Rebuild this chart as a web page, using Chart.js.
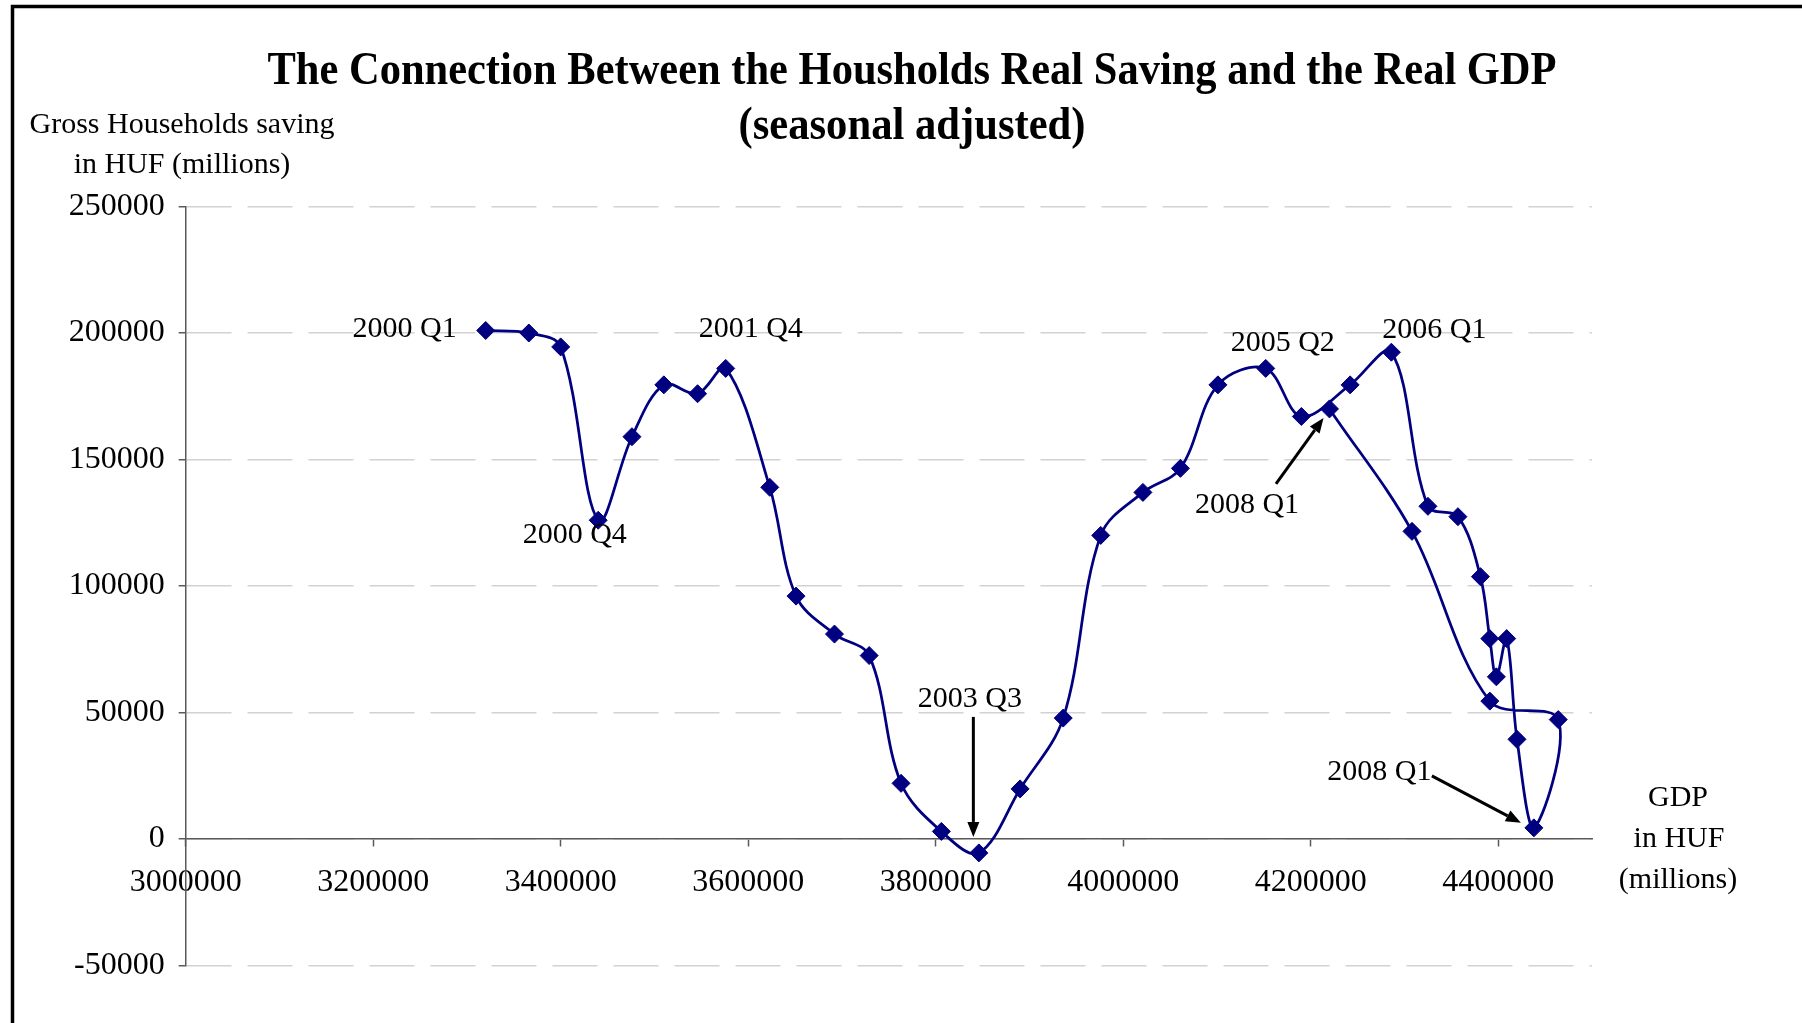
<!DOCTYPE html>
<html>
<head>
<meta charset="utf-8">
<title>Households real saving vs real GDP</title>
<script src="https://cdn.jsdelivr.net/npm/chart.js@4.4.1/dist/chart.umd.min.js"></script>
<style>
  html, body { margin: 0; padding: 0; background: #fff; }
  #wrap { width: 1802px; height: 1023px; }
</style>
</head>
<body>
<div id="wrap"><canvas id="savingChart" width="1802" height="1023"></canvas></div>
<script>
const quarters = [
  '2000 Q1', '2000 Q2', '2000 Q3', '2000 Q4',
  '2001 Q1', '2001 Q2', '2001 Q3', '2001 Q4',
  '2002 Q1', '2002 Q2', '2002 Q3', '2002 Q4',
  '2003 Q1', '2003 Q2', '2003 Q3', '2003 Q4',
  '2004 Q1', '2004 Q2', '2004 Q3', '2004 Q4',
  '2005 Q1', '2005 Q2', '2005 Q3', '2005 Q4',
  '2006 Q1', '2006 Q2', '2006 Q3', '2006 Q4',
  '2007 Q1', '2007 Q2', '2007 Q3', '2007 Q4',
  '2008 Q1', '2008 Q2', '2008 Q3', '2008 Q4',
  '2009 Q1'
];
const gdpValues = [
  3320000, 3366000, 3400000, 3440000,
  3476000, 3510000, 3546000, 3576000,
  3623000, 3651000, 3692000, 3729000,
  3763000, 3806000, 3846000, 3890000,
  3936000, 3976000, 4021000, 4061000,
  4101000, 4152000, 4190000, 4242000,
  4286000, 4325000, 4357000, 4381000,
  4391000, 4398000, 4409000, 4420000,
  4438000, 4464000, 4391000, 4308000,
  4220000
];
const savingValues = [
  201000, 200000, 194500, 126000,
  159000, 179500, 176000, 186000,
  139000, 96000, 81000, 72500,
  22000, 3000, -5500, 19800,
  47800, 120000, 137000, 146500,
  179500, 186000, 167000, 179500,
  192400, 131500, 127400, 103700,
  79200, 64100, 79200, 39400,
  4400, 47200, 54500, 121600,
  170000
];

// axis ticks
const xTicks = [3000000, 3200000, 3400000, 3600000, 3800000, 4000000, 4200000, 4400000];
const yTicks = [-50000, 0, 50000, 100000, 150000, 200000, 250000];
const xMin = 3000000, xMax = 4500000;
const yMin = -50000, yMax = 250000;

// annotation texts and the observation (index) each one refers to
const noteTexts = ['2000 Q1', '2000 Q4', '2001 Q4', '2003 Q3', '2005 Q2', '2006 Q1', '2008 Q1', '2008 Q1'];
const notePoints = [0, 3, 7, 14, 21, 24, 36, 32];

const serif = "'Liberation Serif', 'Times New Roman', serif";
const navy = '#000080';
const axisGray = '#5a5a5a';

// pixel offsets of the labels from their points
const noteLayout = [
  { dx: -29, dy: -1, align: 'right' },
  { dx: -23.5, dy: 15 },
  { dx: 25, dy: -39 },
  { dx: -9, dy: -154, arrow: [-5.5, -136, -5.5, -16] },
  { dx: 17, dy: -25 },
  { dx: 43, dy: -22 },
  { dx: -82.5, dy: 96.6, arrow: [-53.5, 75, -6, 9] },
  { dx: -154.5, dy: -55.4, arrow: [-102, -52, -13, -5] }
];

function drawArrow(ctx, x1, y1, x2, y2) {
  const ang = Math.atan2(y2 - y1, x2 - x1);
  const head = 15, half = 6;
  const bx = x2 - head * Math.cos(ang), by = y2 - head * Math.sin(ang);
  ctx.beginPath();
  ctx.moveTo(x1, y1);
  ctx.lineTo(bx, by);
  ctx.stroke();
  ctx.beginPath();
  ctx.moveTo(x2, y2);
  ctx.lineTo(bx + half * Math.sin(ang), by - half * Math.cos(ang));
  ctx.lineTo(bx - half * Math.sin(ang), by + half * Math.cos(ang));
  ctx.closePath();
  ctx.fill();
}

const framePlugin = {
  id: 'frame',
  beforeDraw(chart) {
    const ctx = chart.ctx;
    ctx.save();
    ctx.fillStyle = '#fff';
    ctx.fillRect(0, 0, chart.width, chart.height);
    ctx.strokeStyle = '#000';
    ctx.lineWidth = 3.5;
    ctx.beginPath();
    ctx.moveTo(12.5, chart.height);
    ctx.lineTo(12.5, 6.5);
    ctx.lineTo(chart.width, 6.5);
    ctx.stroke();
    ctx.restore();
  }
};

const textPlugin = {
  id: 'texts',
  afterDraw(chart) {
    const ctx = chart.ctx;
    ctx.save();
    ctx.fillStyle = '#000';
    ctx.textAlign = 'center';
    ctx.textBaseline = 'middle';

    // title (condensed to the original width)
    ctx.font = 'bold 47px ' + serif;
    ctx.fillText('The Connection Between the Housholds Real Saving and the Real GDP', 912, 72, 1289);
    ctx.fillText('(seasonal adjusted)', 912, 127, 347);

    // axis titles
    ctx.font = '30px ' + serif;
    ctx.fillText('Gross Households saving', 182, 125);
    ctx.fillText('in HUF (millions)', 182, 165);
    ctx.fillText('GDP', 1678, 798);
    ctx.fillText('in HUF', 1679, 839);
    ctx.fillText('(millions)', 1678, 880);

    // point annotations
    const meta = chart.getDatasetMeta(0);
    ctx.strokeStyle = '#000';
    ctx.lineWidth = 3;
    noteTexts.forEach((txt, i) => {
      const pt = meta.data[notePoints[i]];
      const lay = noteLayout[i];
      ctx.textAlign = lay.align || 'center';
      ctx.fillText(txt, pt.x + lay.dx, pt.y + lay.dy);
      if (lay.arrow) {
        const a = lay.arrow;
        drawArrow(ctx, pt.x + a[0], pt.y + a[1], pt.x + a[2], pt.y + a[3]);
      }
    });
    ctx.restore();
  }
};

Chart.defaults.font.family = serif;
Chart.defaults.color = '#000';

const ctx = document.getElementById('savingChart').getContext('2d');
const savingChart = new Chart(ctx, {
  type: 'scatter',
  data: {
    datasets: [{
      label: 'Gross households saving',
      data: gdpValues.map((g, i) => ({ x: g, y: savingValues[i], q: quarters[i] })),
      showLine: true,
      tension: 0.35,
      borderColor: navy,
      borderWidth: 2.75,
      backgroundColor: navy,
      pointStyle: 'rectRot',
      pointRadius: 9,
      pointBorderWidth: 1,
      pointBorderColor: navy,
      pointBackgroundColor: navy
    }]
  },
  options: {
    responsive: false,
    animation: false,
    layout: { padding: { top: 206.5, bottom: 57.5, left: 0, right: 210 } },
    plugins: {
      legend: { display: false },
      tooltip: { enabled: false },
      title: { display: false }
    },
    scales: {
      x: {
        type: 'linear',
        position: { y: 0 },
        min: xMin,
        max: xMax,
        afterBuildTicks: scale => { scale.ticks = xTicks.map(v => ({ value: v })); },
        ticks: {
          autoSkip: false,
          maxRotation: 0,
          padding: 17,
          font: { size: 32 },
          color: '#000',
          callback: v => String(v)
        },
        grid: {
          drawOnChartArea: false,
          tickLength: 7,
          tickColor: axisGray,
          tickWidth: 1.5
        },
        border: { color: axisGray, width: 1.5 }
      },
      y: {
        type: 'linear',
        position: 'left',
        min: yMin,
        max: yMax,
        afterBuildTicks: scale => { scale.ticks = yTicks.map(v => ({ value: v })); },
        ticks: {
          autoSkip: false,
          padding: 14,
          font: { size: 32 },
          color: '#000',
          callback: v => String(v)
        },
        grid: {
          color: '#d2d2d2',
          lineWidth: 1.5,
          tickLength: 7,
          tickColor: axisGray,
          tickWidth: 1.5
        },
        border: { color: axisGray, width: 1.5, dash: [45, 16] },
        afterFit: scale => { scale.width = 185.7; }
      }
    }
  },
  plugins: [framePlugin, textPlugin]
});
</script>
</body>
</html>
